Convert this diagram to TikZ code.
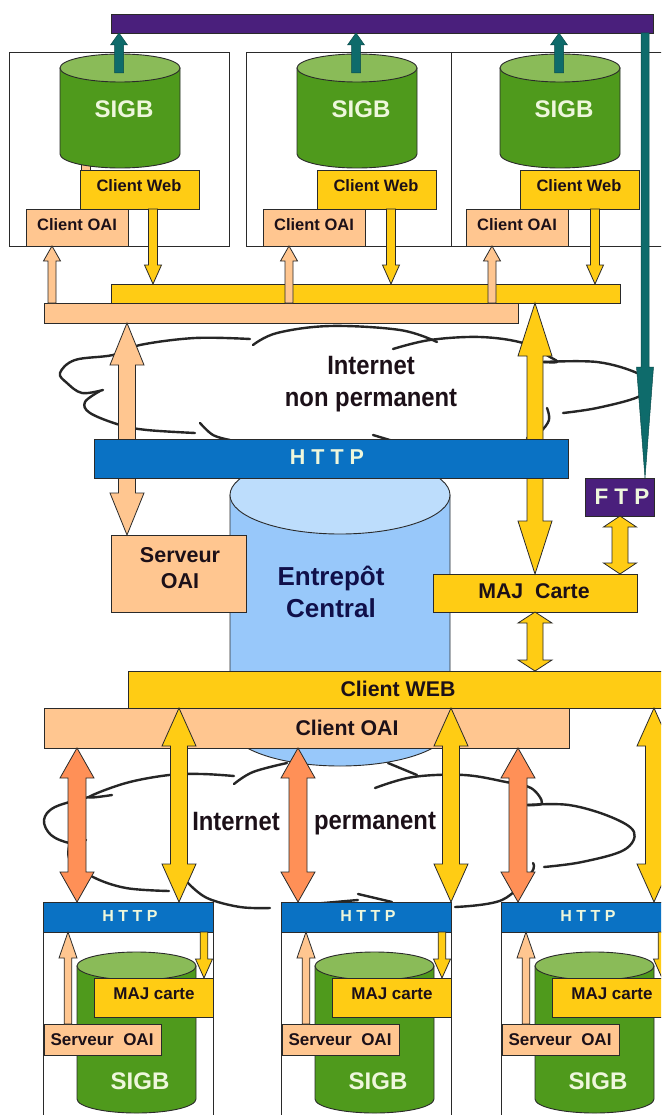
\documentclass[tikz,border=0pt]{standalone}
\usepackage{fontspec}
\setmainfont{Liberation Sans}
\newfontfamily\condf[FakeStretch=0.9]{Liberation Sans}
\usetikzlibrary{calc}
\definecolor{cgreen}{HTML}{4F9A1C}
\definecolor{cgreentop}{HTML}{8ABB58}
\definecolor{cyellow}{HTML}{FFCC14}
\definecolor{cpeach}{HTML}{FFC690}
\definecolor{corange}{HTML}{FF9057}
\definecolor{cblue}{HTML}{0A72C4}
\definecolor{cpurple}{HTML}{4A1F7C}
\definecolor{cteal}{HTML}{0E6B6B}
\definecolor{ccyl}{HTML}{98C8FA}
\definecolor{ccyltop}{HTML}{BDDDFC}
\definecolor{cink}{HTML}{1C1018}
\definecolor{cnavy}{HTML}{10104A}
\definecolor{cline}{HTML}{2A2A2A}
\definecolor{cpale}{HTML}{EEF7DC}
\tikzset{
  outl/.style={draw=cline,line width=0.8pt},
  boxy/.style={outl,fill=cyellow},
  boxp/.style={outl,fill=cpeach},
  boxb/.style={outl,fill=cblue},
  boxv/.style={outl,fill=cpurple},
  frameb/.style={draw=cline,line width=0.8pt,fill=white},
  ary/.style={outl,fill=cyellow},
  arp/.style={outl,fill=cpeach},
  aro/.style={outl,fill=corange},
  art/.style={draw=cteal!70!black,line width=0.5pt,fill=cteal},
  cloudline/.style={draw=black!85,line width=2.4pt,line cap=round,line join=round},
  lab/.style={font=\bfseries\fontsize{#1}{#1}\selectfont,text=cink,inner sep=0pt,align=center},
  labc/.style={font=\condf\bfseries\fontsize{#1}{#1}\selectfont,text=cink,inner sep=0pt,align=center},
  labw/.style={font=\bfseries\fontsize{#1}{#1}\selectfont,text=cpale,inner sep=0pt},
  labn/.style={font=\bfseries\fontsize{#1}{#1}\selectfont,text=cnavy,inner sep=0pt,align=center},
}
% rectangle node from two corners
\newcommand{\bx}[6]{%
  \pgfmathsetmacro{\bxw}{(#4)-(#2)}\pgfmathsetmacro{\bxh}{(#5)-(#3)}%
  \node[#6,inner sep=0pt,outer sep=0pt,minimum width=\bxw pt,minimum height=\bxh pt]
    (#1) at ({((#2)+(#4))/2},{((#3)+(#5))/2}) {};}
% double block arrow between two anchors at abscissa x
\newcommand{\dbl}[7]{%
  \path (#2,0 |- #3) coordinate (dA) (#2,0 |- #4) coordinate (dB);
  \draw[#1] (dA) -- ([shift={(#6,#7)}]dA) -- ([shift={(#5,#7)}]dA)
    -- ([shift={(#5,-#7)}]dB) -- ([shift={(#6,-#7)}]dB) -- (dB)
    -- ([shift={(-#6,-#7)}]dB) -- ([shift={(-#5,-#7)}]dB)
    -- ([shift={(-#5,#7)}]dA) -- ([shift={(-#6,#7)}]dA) -- cycle;}
% single block arrow: tip anchor, tail anchor; sign 1 tip on top, -1 tip below
\newcommand{\sng}[8]{%
  \path (#2,0 |- #3) coordinate (dA) (#2,0 |- #4) coordinate (dB);
  \draw[#1] (dA) -- ([shift={(#6,#8*#7)}]dA) -- ([shift={(#5,#8*#7)}]dA)
    -- ([shift={(#5,0)}]dB) -- ([shift={(-#5,0)}]dB)
    -- ([shift={(-#5,#8*#7)}]dA) -- ([shift={(-#6,#8*#7)}]dA) -- cycle;}
% cylinder
\newcommand{\cyl}[7]{%
  \pgfmathsetmacro{\cc}{((#1)+(#2))/2}\pgfmathsetmacro{\ca}{((#2)-(#1))/2}%
  \pgfmathsetmacro{\cka}{0.5523*\ca}\pgfmathsetmacro{\ckb}{0.5523*#5}%
  \draw[draw=cline,line width=0.9pt,fill=#6] (#1,#3) -- (#1,#4)
    .. controls (#1,#4+\ckb) and (\cc-\cka,#4+#5) .. (\cc,#4+#5)
    .. controls (\cc+\cka,#4+#5) and (#2,#4+\ckb) .. (#2,#4) -- (#2,#3) -- cycle;
  \draw[draw=cline,line width=0.9pt,fill=#7] (#1,#3)
    .. controls (#1,#3+\ckb) and (\cc-\cka,#3+#5) .. (\cc,#3+#5)
    .. controls (\cc+\cka,#3+#5) and (#2,#3+\ckb) .. (#2,#3)
    .. controls (#2,#3-\ckb) and (\cc+\cka,#3-#5) .. (\cc,#3-#5)
    .. controls (\cc-\cka,#3-#5) and (#1,#3-\ckb) .. (#1,#3) -- cycle;}
% upper site contents (frame drawn apart). #1 index, #2 offset
\newcommand{\upsite}[2]{%
  \cyl{60+#2}{180+#2}{68}{154}{14}{cgreen}{cgreentop}
  \coordinate (tail#1) at (119+#2,73);
  \sng{art}{119+#2}{bar.south}{tail#1}{4.5}{8.5}{12}{1}
  \node[labw=24] (sigb#1) at (124+#2,109) {SIGB};
  \bx{web#1}{80+#2}{170}{199+#2}{209}{boxy}
  \node[lab=16.5] (webt#1) at (139+#2,186) {Client Web};
  \bx{oai#1}{26+#2}{209}{128+#2}{246}{boxp}
  \node[lab=16.5] (oait#1) at (77+#2,225) {Client OAI};
}
% lower site
\newcommand{\lowsite}[2]{%
  \draw[draw=cline,line width=0.8pt,fill=white] (43+#2,932) -- (43+#2,1120) -- (213+#2,1120) -- (213+#2,932);
  \bx{lhttp#1}{43+#2}{902}{213+#2}{932}{boxb}
  \node[labw=16] (lhttpt#1) at (130+#2,916) {H T T P};
  \cyl{77+#2}{196+#2}{966}{1099}{14}{cgreen}{cgreentop}
  \bx{lmaj#1}{94+#2}{978}{213+#2}{1017}{boxy}
  \node[lab=17] (lmajt#1) at (154+#2,994) {MAJ carte};
  \bx{lsrv#1}{44+#2}{1024}{161+#2}{1055}{boxp}
  \node[lab=17] (lsrvt#1) at (102+#2,1040) {Serveur\ \ OAI};
  \node[labw=24] (lsigb#1) at (140+#2,1081) {SIGB};
  \sng{arp}{68+#2}{lhttp#1.south}{lsrv#1.north}{3.8}{9}{26}{1}
  \sng{ary}{204+#2}{lmaj#1.north}{lhttp#1.south}{3.8}{8.5}{19}{-1}
}
\begin{document}
\begin{tikzpicture}[x=1pt,y=-1pt]
\useasboundingbox (0,0) rectangle (661,1115);
\clip (0,0) rectangle (661,1115);
\fill[white] (0,0) rectangle (661,1115);

% ---- upper cloud
\draw[cloudline] plot[smooth,tension=0.6] coordinates {(250,339) (195,338) (140,345) (113,355) (75,360) (60,373) (67,383) (82,393) (103,390)};
\draw[cloudline] plot[smooth,tension=0.6] coordinates {(100,391) (85,402) (90,413) (120,425) (147,430) (195,433)};
\draw[cloudline] plot[smooth,tension=0.6] coordinates {(200,423) (213,435) (230,440)};
\draw[cloudline] plot[smooth,tension=0.6] coordinates {(253,345) (277,333) (330,326) (400,330) (437,342)};
\draw[cloudline] plot[smooth,tension=0.6] coordinates {(393,349) (430,340) (480,337) (523,343) (550,357) (557,362) (543,362)};
\draw[cloudline] plot[smooth,tension=0.6] coordinates {(543,362) (597,362) (637,373) (648,385) (638,397) (597,408) (563,413)};
\draw[cloudline] plot[smooth,tension=0.6] coordinates {(547,408) (549,420) (540,432) (527,438)};
\draw[cloudline] plot[smooth,tension=0.6] coordinates {(373,435) (393,441)};

% ---- lower cloud
\draw[cloudline] plot[smooth,tension=0.6] coordinates {(234,776) (202,774) (169,775) (126,783) (89,797) (112,795)};
\draw[cloudline] plot[smooth,tension=0.6] coordinates {(89,797) (55,807) (44,820) (51,835) (70,843) (86,840)};
\draw[cloudline] plot[smooth,tension=0.6] coordinates {(70,843) (70,860) (93,877) (126,888) (169,891)};
\draw[cloudline] plot[smooth,tension=0.6] coordinates {(188,883) (207,898) (240,907) (270,908)};
\draw[cloudline] plot[smooth,tension=0.6] coordinates {(234,784) (253,772) (287,763)};
\draw[cloudline] plot[smooth,tension=0.6] coordinates {(388,763) (417,775)};
\draw[cloudline] plot[smooth,tension=0.6] coordinates {(375,788) (413,777) (464,775) (506,782) (531,788) (542,803) (527,805)};
\draw[cloudline] plot[smooth,tension=0.6] coordinates {(527,805) (569,805) (611,817) (634,832) (624,850) (582,862) (544,867)};
\draw[cloudline] plot[smooth,tension=0.6] coordinates {(533,863) (531,873) (502,900) (455,907)};
\draw[cloudline] plot[smooth,tension=0.6] coordinates {(358,894) (392,902)};
\draw[cloudline] plot[smooth,tension=0.6] coordinates {(312,904) (358,900)};

% ---- purple bar and upper sites
\bx{bar}{111}{14}{653}{33}{boxv}
\bx{framea}{9}{52}{229}{246}{frameb}
\bx{frameb}{246}{52}{451}{246}{frameb}
\bx{framec}{451}{52}{675}{246}{frameb}
\bx{stub}{81}{163}{90}{171}{boxp}
\upsite{a}{0}
\upsite{b}{237}
\upsite{c}{440}

% ---- horizontal buses
\bx{ybus}{111}{284}{620}{303}{boxy}
\bx{pbus}{44}{303}{518}{323}{boxp}

\sng{arp}{52}{oaia.south}{pbus.north}{4}{8.5}{15}{1}
\sng{arp}{289}{oaib.south}{pbus.north}{4}{8.5}{15}{1}
\sng{arp}{492}{oaic.south}{pbus.north}{4}{8.5}{15}{1}
\sng{ary}{153}{ybus.north}{weba.south}{4.5}{8.5}{19}{-1}
\sng{ary}{391}{ybus.north}{webb.south}{4.5}{8.5}{19}{-1}
\sng{ary}{595}{ybus.north}{webc.south}{4.5}{8.5}{19}{-1}

% ---- central store
\cyl{230}{450}{495}{727}{39}{ccyl}{ccyltop}

% ---- boxes of the central part
\bx{srv}{111}{535}{246}{612}{boxp}
\bx{maj}{433}{574}{637}{612}{boxy}
\bx{ftp}{585}{478}{654}{516}{boxv}

\dbl{arp}{127}{pbus.south}{srv.north}{8.5}{17}{42}
\dbl{ary}{535}{ybus.south}{maj.north}{8}{17}{53}
\sng{art}{645}{ftp.north}{bar.south}{4}{8.5}{111}{-1}

\bx{http}{94}{439}{568}{478}{boxb}
\node[labw=21.5] (httpt) at (327,457) {H T T P};
\node[labw=22.5] (ftpt) at (622,497) {F T P};
\node[labc=26.5] (inet) at (371,384) {Internet\\[5pt]non permanent};
\node[lab=21.5] (srvt) at (180,568) {Serveur\\[5pt]OAI};
\node[lab=21.3] (majt) at (534,591) {MAJ\ \ Carte};
\node[labn=26] (ent) at (331,592) {Entrepôt\\[6pt]Central};

\dbl{ary}{620}{ftp.south}{maj.north}{8}{16.5}{11}

% ---- central clients
\bx{cweb}{128}{671}{680}{708}{boxy}
\bx{coai}{44}{708}{569}{748}{boxp}
\dbl{ary}{535}{maj.south}{cweb.north}{8}{17}{11}
\node[lab=21.3] (cwebt) at (398,689) {Client WEB};
\node[lab=21.3] (coait) at (347,728) {Client OAI};
\node[labc=26.5] (in2) at (236,822) {Internet};
\node[labc=26.5] (pe2) at (375,824) {permanent};

% ---- lower sites
\lowsite{a}{0}
\lowsite{b}{238}
\lowsite{c}{458}

% ---- long arrows
\dbl{aro}{77}{coai.south}{lhttpa.north}{9}{17}{30}
\dbl{aro}{298}{coai.south}{lhttpb.north}{9}{17}{30}
\dbl{aro}{518}{coai.south}{lhttpc.north}{9}{17}{30}
\dbl{ary}{179}{cweb.south}{lhttpa.north}{8.5}{17}{38}
\dbl{ary}{451}{cweb.south}{lhttpb.north}{8.5}{17}{38}
\dbl{ary}{654}{cweb.south}{lhttpc.north}{8.5}{17}{38}
\end{tikzpicture}
\end{document}
